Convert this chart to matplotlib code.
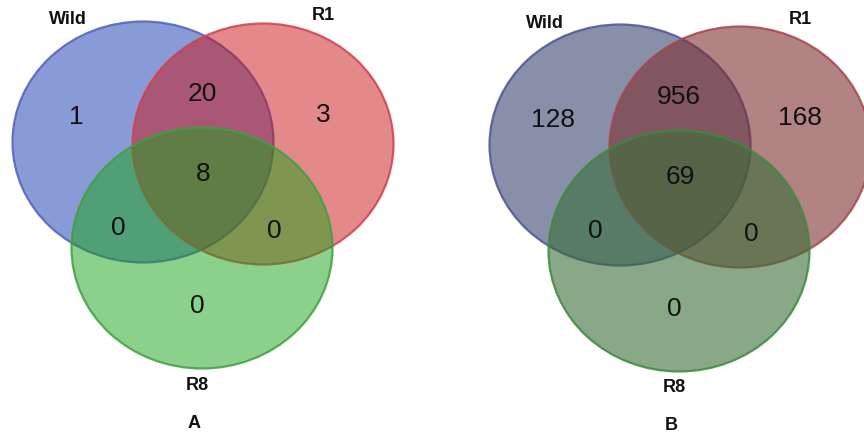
import matplotlib
matplotlib.use("Agg")
import matplotlib.pyplot as plt
from matplotlib.patches import Ellipse

# set names and region counts (Wild only, R1 only, R8 only, Wild&R1, Wild&R8, R1&R8, all)
set_names = ["Wild", "R1", "R8"]
panel_titles = ["A", "B"]
counts_a = [1, 3, 0, 20, 0, 0, 8]
counts_b = [128, 168, 0, 956, 0, 0, 69]

# colours per panel (fill base colours, edge colours)
fills_a = ["#1539b1", "#cb1515", "#19a319"]
edges_a = ["#5060c0", "#d04050", "#40a040"]
fills_b = ["#394671", "#7e3030", "#396e39"]
edges_b = ["#4a5494", "#a84450", "#3c8a3c"]

plt.rcParams["font.family"] = ["Liberation Sans", "DejaVu Sans"]

fig = plt.figure(figsize=(8.64, 4.4), dpi=100)
ax = fig.add_axes([0, 0, 1, 1])
ax.set_xlim(0, 864)
ax.set_ylim(440, 0)
ax.axis("off")


def venn(x0, y0, counts, fills, edges, title, alpha):
    # ellipse centres relative to panel origin
    centres = [(143, 142), (263, 144), (202, 248)]
    w, h = 261, 241
    for (cx, cy), fc, ec in zip(centres, fills, edges):
        ax.add_patch(Ellipse((x0 + cx, y0 + cy), w, h, facecolor=fc,
                             alpha=alpha, edgecolor="none"))
        ax.add_patch(Ellipse((x0 + cx, y0 + cy), w, h, facecolor="none",
                             edgecolor=ec, lw=1.6, alpha=0.85))
    # region label positions
    pos = [(76, 117), (323, 115), (197, 306), (202, 94), (118, 228), (274, 231), (203, 174)]
    for (px, py), n in zip(pos, counts):
        ax.text(x0 + px, y0 + py, str(n), ha="center", va="center",
                fontsize=19, color="#111111")
    # set names
    name_pos = [(68, 20), (323, 16), (197, 385)]
    for (px, py), nm in zip(name_pos, set_names):
        ax.text(x0 + px, y0 + py, nm, ha="center", va="center",
                fontsize=13, fontweight="bold", color="#111111")
    ax.text(x0 + 194, y0 + 423, title, ha="center", va="center",
            fontsize=13, fontweight="bold", color="#111111")


venn(0, 0, counts_a, fills_a, edges_a, panel_titles[0], 0.5)
venn(477, 3, counts_b, fills_b, edges_b, panel_titles[1], 0.6)

fig.savefig("out.png", dpi=100)
